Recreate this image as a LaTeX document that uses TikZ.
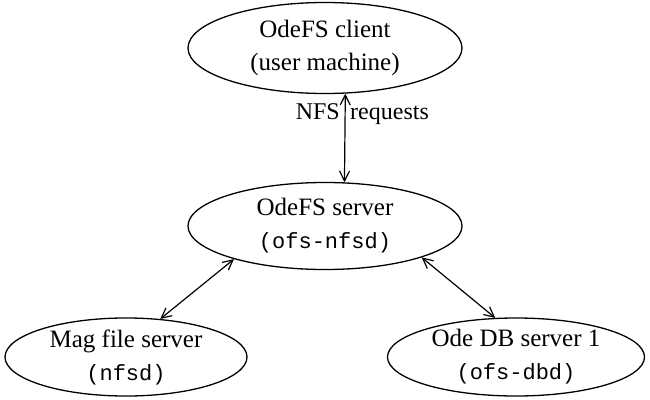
\documentclass[tikz,border=0pt]{standalone}
\usepackage{fontspec}
\setmainfont{Liberation Serif}
\setmonofont[Scale=0.88]{Liberation Mono}
\usetikzlibrary{shapes.geometric,arrows.meta}
\begin{document}
\begin{tikzpicture}[x=1pt,y=-1pt,
  proc/.style={draw, ellipse, line width=1.3pt, inner sep=0pt, align=center,
    font=\fontsize{25}{33}\selectfont},
  link/.style={line width=1.2pt, {Straight Barb[length=10pt,width=10pt]}-{Straight Barb[length=10pt,width=10pt]}},
  lbl/.style={font=\fontsize{24}{30}\selectfont, inner sep=0pt}]
\useasboundingbox (0,0) rectangle (650,399);
\node[proc, minimum width=274pt, minimum height=91pt] (client) at (325,48)
  {OdeFS client\\(user machine)};
\node[proc, minimum width=274pt, minimum height=87pt] (server) at (325,226)
  {OdeFS server\\\texttt{(ofs-nfsd)}};
\node[proc, minimum width=242pt, minimum height=78pt] (mag) at (126,357)
  {Mag file server\\\texttt{(nfsd)}};
\node[proc, minimum width=257pt, minimum height=78pt] (ode) at (516,357)
  {Ode DB server 1\\\texttt{(ofs-dbd)}};
\draw[link] (client.-66) -- (server.66);
\draw[link] (server.-160) -- (mag.48);
\draw[link] (server.-18) -- (ode.118);
\node[lbl, anchor=base east] (nfs) at (340,119) {NFS};
\node[lbl, anchor=base west] (req) at (350,119) {requests};
\end{tikzpicture}
\end{document}
